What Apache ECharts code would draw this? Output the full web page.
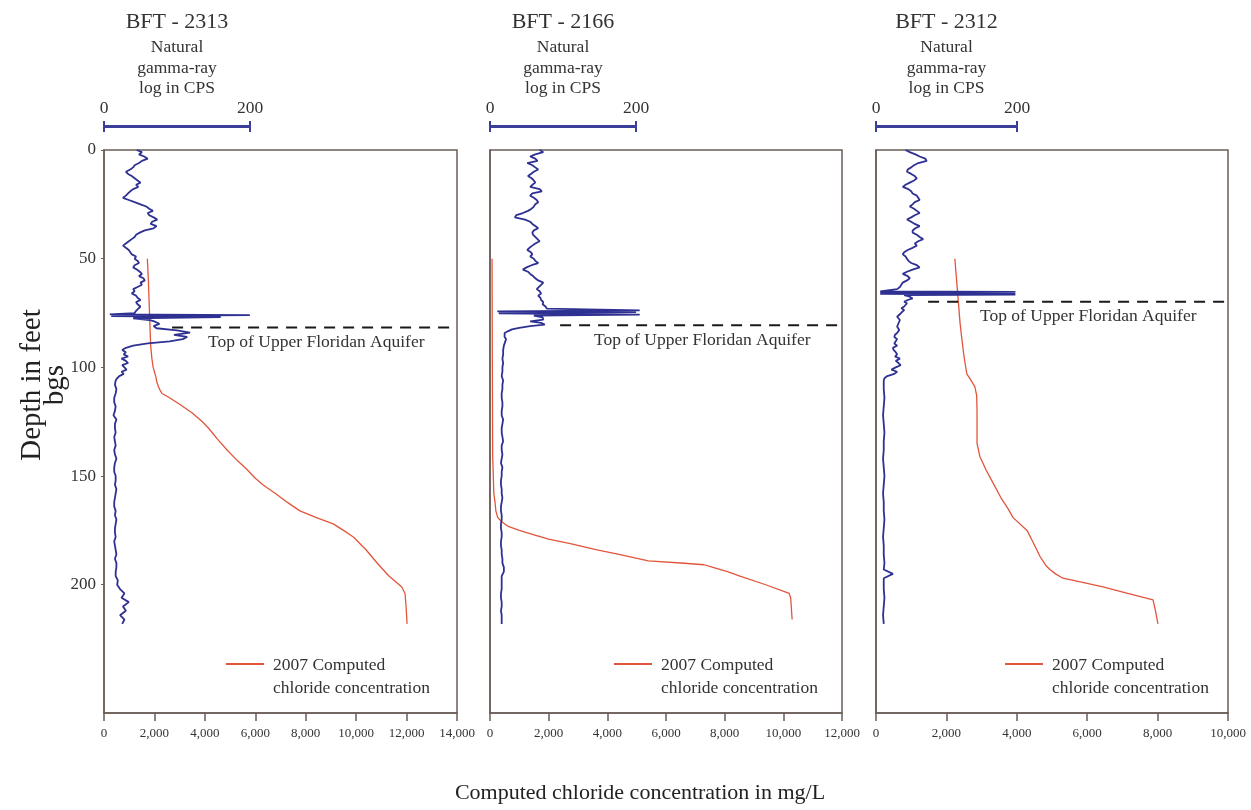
<!DOCTYPE html>
<html><head><meta charset="utf-8">
<script src="https://cdn.jsdelivr.net/npm/echarts@6/dist/echarts.min.js"></script>
<style>html,body{margin:0;padding:0;background:#fff}#c{width:1251px;height:810px}</style>
</head><body><div id="c"></div>
<script>
// ---------- DATA ----------
const wellNames = ['BFT - 2313', 'BFT - 2166', 'BFT - 2312'];
const chlorideMax = [14000, 12000, 10000];
const chlorideTicks = [0, 2000, 4000, 6000, 8000, 10000, 12000, 14000];
const depthTicks = [0, 50, 100, 150, 200];
const gammaScaleTicks = [0, 200];
const ufaTopDepth = [81.6, 80.6, 69.8];      // depth of Top of Upper Floridan Aquifer (ft)
const ufaLineStart = [2700, 2390, 1480];     // chloride value where dashed line starts

// gamma-ray logs: [depth ft, CPS]
const gamma2313 = [[0,45],[1,52],[2,48],[3,55],[4,60],[5,52],[6,48],[7,42],[8,40],[9,36],[10,30],[11,33],[12,38],[13,42],[14,46],[15,50],[16,44],[17,47],[18,40],[19,36],[20,33],[21,30],[22,26],[23,34],[24,42],[25,50],[26,58],[27,62],[28,67],[29,60],[30,62],[31,68],[32,73],[33,66],[34,64],[35,72],[36,68],[37,56],[38,49],[39,44],[40,42],[41,38],[42,34],[43,30],[44,26],[45,30],[46,34],[47,36],[48,38],[49,44],[50,42],[51,46],[52,48],[53,42],[54,40],[55,45],[56,49],[57,52],[58,48],[59,54],[60,56],[61,50],[62,52],[63,46],[64,40],[65,42],[66,38],[67,44],[68,46],[69,50],[70,44],[71,46],[72,50],[73,47],[74,44],[75,42],[75.6,8],[76,200],[76.4,10],[76.9,160],[77.4,40],[78.2,62],[79,70],[80,76],[81,68],[82,72],[83,100],[84,118],[85,96],[86,114],[87,108],[88,90],[89,60],[90,40],[91,30],[92,25],[93,30],[94,27],[95,33],[96,24],[97,30],[98,33],[99,25],[100,28],[101,31],[102,24],[103,27],[104,21],[105,18],[106,16],[108,15],[110,17],[112,16],[114,14],[116,14],[118,16],[120,15],[122,13],[124,17],[126,15],[128,15],[130,16],[132,14],[134,15],[136,16],[138,14],[140,15],[142,17],[144,15],[146,14],[148,14],[150,16],[152,16],[154,15],[156,17],[158,16],[160,15],[162,14],[164,14],[166,16],[168,15],[170,17],[172,16],[174,15],[176,15],[178,16],[180,14],[182,15],[184,16],[186,17],[188,15],[190,17],[192,17],[194,16],[196,16],[198,19],[200,18],[202,22],[204,28],[206,24],[208,34],[210,26],[212,30],[214,22],[216,28],[218,25]];
const gamma2166 = [[0,68],[1,73],[2,62],[3,55],[4,62],[5,65],[6,51],[7,58],[8,62],[9,66],[10,60],[11,56],[12,52],[13,57],[14,60],[15,62],[16,58],[17,55],[18,68],[19,71],[20,58],[21,55],[22,60],[23,64],[24,66],[25,62],[26,60],[27,57],[28,52],[29,45],[30,36],[31,34],[32,48],[33,55],[34,58],[35,62],[36,66],[37,60],[38,58],[39,59],[40,62],[41,65],[42,68],[43,62],[44,58],[45,54],[46,51],[47,56],[48,58],[49,55],[50,60],[51,62],[52,66],[53,57],[54,50],[55,45],[56,52],[57,55],[58,59],[59,62],[60,66],[61,73],[62,70],[63,67],[64,64],[65,68],[66,70],[67,66],[68,69],[69,70],[70,73],[71,72],[72,76],[73,78],[73.8,205],[74.2,10],[74.6,200],[75.2,12],[75.7,205],[76.2,60],[77,72],[78,73],[78.8,55],[79.5,70],[80.3,75],[81,55],[81.8,40],[82.5,30],[83.3,25],[84.2,20],[85,18],[86,20],[87,22],[90,19],[92,18],[94,18],[96,17],[98,18],[100,17],[102,17],[104,16],[106,18],[108,17],[110,17],[112,16],[114,16],[116,17],[118,17],[120,16],[122,16],[124,18],[126,17],[128,16],[130,16],[132,17],[134,18],[136,16],[138,16],[140,17],[142,16],[144,15],[146,17],[148,16],[150,16],[152,15],[154,15],[156,16],[158,16],[160,17],[162,16],[164,15],[166,15],[168,16],[170,16],[172,15],[174,15],[176,16],[178,16],[180,15],[182,15],[184,16],[186,16],[188,17],[190,17],[192,19],[194,19],[196,16],[198,16],[200,16],[202,16],[204,15],[206,15],[208,16],[210,16],[212,15],[214,16],[216,16],[218,16]];
const gamma2312 = [[0,42],[1,48],[2,56],[3,62],[4,70],[5,72],[6,60],[7,54],[8,50],[9,45],[10,44],[11,50],[12,55],[13,58],[14,54],[15,48],[16,42],[17,38],[18,46],[19,50],[20,52],[21,58],[22,60],[23,62],[24,55],[25,52],[26,48],[27,54],[28,58],[29,62],[30,55],[31,50],[32,44],[33,50],[34,55],[35,62],[36,56],[37,52],[38,52],[39,58],[40,62],[41,67],[42,60],[43,55],[44,58],[45,52],[46,45],[47,40],[48,38],[49,42],[50,44],[51,46],[52,50],[53,58],[54,62],[55,52],[56,44],[57,38],[58,45],[59,48],[60,44],[61,38],[62,36],[63,34],[64,30],[65,6],[65.3,198],[65.6,6],[65.9,198],[66.2,6],[66.5,198],[66.8,40],[67.5,48],[68.3,52],[69,45],[69.8,40],[70.5,44],[71.3,44],[72,40],[72.8,36],[73.6,40],[74.4,38],[75.2,35],[75.9,33],[76.7,30],[77.4,30],[78.2,34],[78.9,36],[79.7,32],[80.5,34],[81.2,30],[82,28],[82.8,33],[83.5,33],[84.2,30],[85,27],[86,26],[87,30],[88,28],[89,26],[90,30],[91,24],[92,25],[93,28],[94,30],[95,27],[96,34],[97,28],[98,32],[99,35],[100,28],[101,22],[102,30],[103,26],[104,16],[105,12],[106,11],[110,11],[114,12],[118,11],[122,10],[126,11],[130,12],[134,11],[138,11],[142,10],[146,11],[150,12],[154,11],[158,10],[162,11],[166,11],[170,12],[174,11],[178,10],[182,11],[186,11],[190,12],[193,11],[195,24],[197,11],[202,11],[206,12],[210,11],[214,10],[218,11]];

// 2007 computed chloride concentration: [depth ft, mg/L]
const chloride2313 = [[50,1720],[60,1760],[70,1790],[80,1820],[90,1850],[96,1900],[100,1950],[104,2050],[107,2100],[110,2200],[112,2300],[114,2600],[117,3000],[121,3500],[125,3900],[128,4150],[133,4500],[138,4880],[143,5300],[147,5670],[151,6000],[154,6300],[158,6800],[162,7260],[166,7770],[169,8400],[172,9090],[175,9500],[178,9890],[184,10400],[190,10830],[196,11300],[201,11810],[204,11940],[210,11980],[218,12020]];
const chloride2166 = [[50,70],[100,80],[140,90],[158,130],[162,170],[166,200],[169,260],[171,400],[173,600],[175,1000],[177,1500],[179,2000],[181,2700],[184,3650],[186,4400],[189,5400],[190,6500],[190.8,7300],[192,7600],[194,8100],[196,8520],[200,9400],[204,10200],[206,10250],[212,10280],[216,10300]];
const chloride2312 = [[50,2240],[60,2290],[70,2340],[80,2390],[87,2440],[95,2500],[103,2580],[106,2700],[109,2810],[113,2860],[120,2870],[128,2870],[135,2870],[141,2950],[147,3120],[153,3320],[160,3550],[165,3750],[169,3890],[175,4290],[181,4480],[187,4660],[191,4820],[193,4940],[195,5100],[197,5310],[199,5900],[201,6450],[204,7150],[207,7870],[212,7940],[218,8010]];

const gammaLogs = [gamma2313, gamma2166, gamma2312];
const chlorideLogs = [chloride2313, chloride2166, chloride2312];

// ---------- LAYOUT ----------
const FONT = '"Liberation Serif", "DejaVu Serif", serif';
const TXT = '#333';
const FRAME = '#6b5e57';
const BLUE = '#2e3192';
const RED = '#e2553c';
const layout = [
  {left: 104, width: 353, scaleW: 146, gammaMax: 484},
  {left: 490, width: 352, scaleW: 146, gammaMax: 482},
  {left: 876, width: 352, scaleW: 141, gammaMax: 500}
];
const TOP = 150, HEIGHT = 563, DEPTH_MAX = 259;

const grid = [], xAxis = [], yAxis = [], series = [], graphic = [];
const fmt = v => v === 0 ? '0' : v.toLocaleString('en-US');

layout.forEach((L, i) => {
  const g0 = i * 2, g1 = i * 2 + 1;
  grid.push({left: L.left, width: L.width, top: TOP, height: HEIGHT, show: true,
    borderColor: FRAME, borderWidth: 1.5, backgroundColor: 'transparent'});
  grid.push({left: L.left, width: L.scaleW, top: 126, height: 1, show: false});

  xAxis.push({gridIndex: g0, type: 'value', position: 'bottom', min: 0, max: chlorideMax[i], interval: 2000,
    axisLine: {show: true, onZero: false, lineStyle: {color: FRAME, width: 1.5}},
    axisTick: {show: true, length: 8, lineStyle: {color: FRAME, width: 1.5}},
    axisLabel: {fontFamily: FONT, fontSize: 13, color: TXT, margin: 14, formatter: fmt,
      customValues: chlorideTicks.filter(t => t <= chlorideMax[i])},
    splitLine: {show: false}});
  xAxis.push({gridIndex: g0, type: 'value', position: 'top', min: 0, max: L.gammaMax, show: false,
    axisLine: {onZero: false}});
  xAxis.push({gridIndex: g1, type: 'value', position: 'top', min: 0, max: 200, interval: 200,
    axisLine: {show: true, onZero: false, lineStyle: {color: '#3b3f9a', width: 2}},
    axisTick: {show: true, length: 5, lineStyle: {color: '#3b3f9a', width: 2}},
    axisLabel: {fontFamily: FONT, fontSize: 17.5, color: TXT, margin: 9, customValues: gammaScaleTicks},
    splitLine: {show: false}});
  xAxis.push({gridIndex: g1, type: 'value', position: 'bottom', min: 0, max: 200, interval: 200,
    axisLine: {show: true, onZero: false, lineStyle: {color: '#3b3f9a', width: 2}},
    axisTick: {show: true, length: 5, lineStyle: {color: '#3b3f9a', width: 2}},
    axisLabel: {show: false}, splitLine: {show: false}});

  yAxis.push({gridIndex: g0, type: 'value', inverse: true, min: 0, max: DEPTH_MAX, interval: 50,
    axisLine: {show: true, onZero: false, lineStyle: {color: FRAME, width: 1.5}},
    axisTick: {show: i === 0, length: 3, lineStyle: {color: FRAME}, customValues: depthTicks},
    axisLabel: {show: i === 0, fontFamily: FONT, fontSize: 17, color: TXT, margin: 8, customValues: depthTicks},
    splitLine: {show: false}});
  yAxis.push({gridIndex: g1, type: 'value', min: 0, max: 1, show: false});

  series.push({type: 'line', name: 'gamma ' + wellNames[i], xAxisIndex: i * 4 + 1, yAxisIndex: g0,
    data: gammaLogs[i].map(p => [p[1], p[0]]), showSymbol: false, symbol: 'none', z: 3,
    lineStyle: {color: BLUE, width: 1.8}, animation: false});
  series.push({type: 'line', name: '2007 Computed chloride concentration', xAxisIndex: i * 4, yAxisIndex: g0,
    data: chlorideLogs[i].map(p => [p[1], p[0]]), showSymbol: false, symbol: 'none', z: 2,
    lineStyle: {color: RED, width: 1.3}, animation: false});
  series.push({type: 'line', name: 'UFA ' + i, xAxisIndex: i * 4, yAxisIndex: g0,
    data: [[ufaLineStart[i], ufaTopDepth[i]], [chlorideMax[i], ufaTopDepth[i]]],
    showSymbol: false, symbol: 'none', z: 4,
    lineStyle: {color: '#1a1a1a', width: 2, type: [11, 8]}, animation: false});

  graphic.push({type: 'text', left: L.left + 104, top: TOP + (ufaTopDepth[i] * HEIGHT / DEPTH_MAX) + 6,
    style: {text: 'Top of Upper Floridan Aquifer', font: '17.5px ' + FONT, fill: TXT}});

  const cx = L.left + L.scaleW / 2;
  graphic.push({type: 'text', x: cx, y: 22, style: {text: wellNames[i], font: '22px ' + FONT, fill: TXT, align: 'center', verticalAlign: 'middle'}});
  graphic.push({type: 'text', x: cx, y: 47, style: {text: 'Natural', font: '17.5px ' + FONT, fill: TXT, align: 'center', verticalAlign: 'middle'}});
  graphic.push({type: 'text', x: cx, y: 68, style: {text: 'gamma-ray', font: '17.5px ' + FONT, fill: TXT, align: 'center', verticalAlign: 'middle'}});
  graphic.push({type: 'text', x: cx, y: 88, style: {text: 'log in CPS', font: '17.5px ' + FONT, fill: TXT, align: 'center', verticalAlign: 'middle'}});

  const lx = L.left + [122, 124, 129][i];
  graphic.push({type: 'line', shape: {x1: lx, y1: 664, x2: lx + 38, y2: 664}, style: {stroke: RED, lineWidth: 2}});
  graphic.push({type: 'text', x: lx + 47, y: 665, style: {text: '2007 Computed', font: '17.5px ' + FONT, fill: TXT, verticalAlign: 'middle'}});
  graphic.push({type: 'text', x: lx + 47, y: 688, style: {text: 'chloride concentration', font: '17.5px ' + FONT, fill: TXT, verticalAlign: 'middle'}});
});

graphic.push({type: 'text', x: 640, y: 793, style: {text: 'Computed chloride concentration in mg/L', font: '22px ' + FONT, fill: '#222', align: 'center', verticalAlign: 'middle'}});
graphic.push({type: 'text', x: 44, y: 385, rotation: Math.PI / 2,
  style: {text: 'Depth in feet\nbgs', font: '29px ' + FONT, fill: '#222', align: 'center', verticalAlign: 'middle', lineHeight: 23}});

const chart = echarts.init(document.getElementById('c'), null, {renderer: 'canvas'});
chart.setOption({backgroundColor: '#fff', animation: false, grid, xAxis, yAxis, series, graphic});
</script></body></html>
